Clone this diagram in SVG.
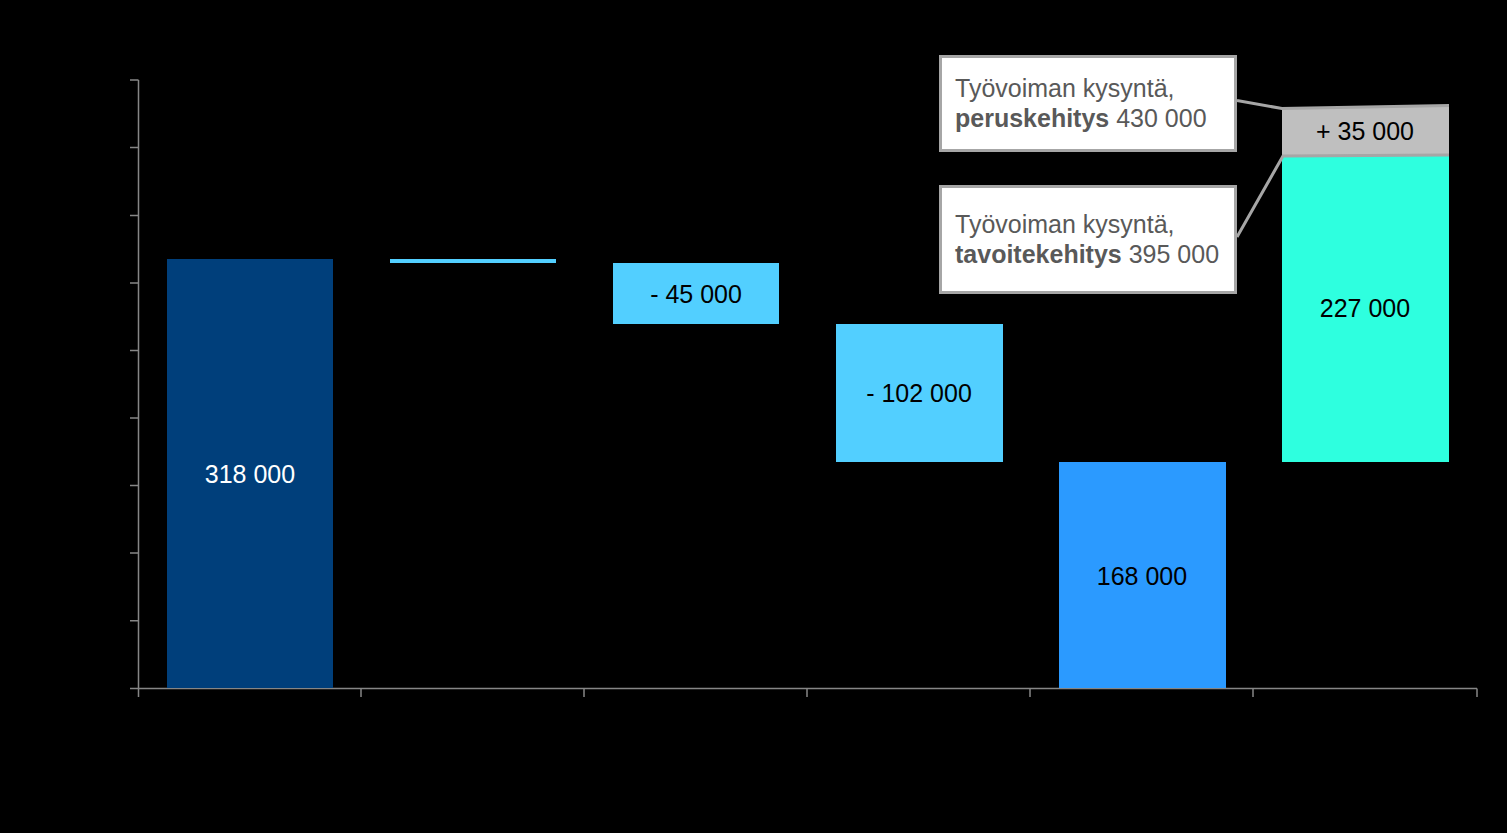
<svg xmlns="http://www.w3.org/2000/svg" width="1507" height="833" viewBox="0 0 1507 833">
<style>
.lbl{font-family:"Liberation Sans",Arial,sans-serif;font-size:25px;text-anchor:middle;fill:#000}
.wt{fill:#fff}
.ct{font-family:"Liberation Sans",Arial,sans-serif;font-size:25px;fill:#595959}
.axis{stroke:#868686;stroke-width:1.5;fill:none}
.box{fill:#fff;stroke:#a6a6a6;stroke-width:3}
.lead{stroke:#a6a6a6;stroke-width:3;fill:none}
</style>
<rect x="0" y="0" width="1507" height="833" fill="#000"/>
<g id="axes">
<path class="axis" d="M138.5 80V689M130 80H138.5M130 147.5H138.5M130 215.5H138.5M130 283H138.5M130 350.6H138.5M130 418H138.5M130 485.5H138.5M130 553H138.5M130 620.8H138.5M130 688.5H138.5"/>
<path class="axis" d="M138.5 688.5H1477M138.5 688.5V697M361 688.5V697M584 688.5V697M807 688.5V697M1030 688.5V697M1253 688.5V697M1477 688.5V697"/>
</g>
<g id="bar1">
<rect x="167" y="259" width="166" height="429" fill="#003f7b"/>
<text class="lbl wt" x="250" y="482.5">318 000</text>
</g>
<g id="bar2">
<rect x="390" y="259" width="166" height="4" fill="#52cfff"/>
</g>
<g id="bar3">
<rect x="613" y="263" width="166" height="61" fill="#52cfff"/>
<text class="lbl" x="696" y="302.5">- 45 000</text>
</g>
<g id="bar4">
<rect x="836" y="324" width="167" height="138" fill="#52cfff"/>
<text class="lbl" x="919" y="401.5">- 102 000</text>
</g>
<g id="bar5">
<rect x="1059" y="462" width="167" height="226" fill="#2b9aff"/>
<text class="lbl" x="1142" y="584.5">168 000</text>
</g>
<g id="bar6">
<rect x="1282" y="156" width="167" height="306" fill="#2effdf"/>
<text class="lbl" x="1365" y="316.5">227 000</text>
</g>
<g id="bar7">
<polygon points="1282,108 1449,105 1449,156 1282,156" fill="#bfbfbf"/>
<text class="lbl" x="1365" y="139.5">+ 35 000</text>
</g>
<g id="connectors">
<polyline class="lead" points="1237,100.5 1282,108.5 1449,105.5"/>
<polyline class="lead" points="1237,237 1283,156 1449,155"/>
</g>
<g id="callout1">
<rect class="box" x="940.5" y="56.5" width="295" height="94"/>
<text class="ct" x="955" y="96.5">Työvoiman kysyntä,</text>
<text class="ct" x="955" y="126.5"><tspan font-weight="bold">peruskehitys</tspan> 430 000</text>
</g>
<g id="callout2">
<rect class="box" x="940.5" y="186.5" width="295" height="106"/>
<text class="ct" x="955" y="233">Työvoiman kysyntä,</text>
<text class="ct" x="955" y="262.5"><tspan font-weight="bold">tavoitekehitys</tspan> 395 000</text>
</g>
</svg>
